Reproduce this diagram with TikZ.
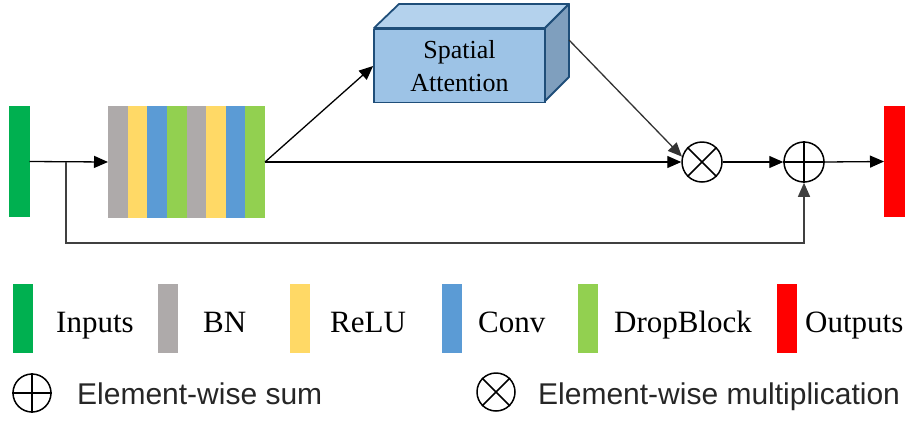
\documentclass[tikz,border=0pt]{standalone}
\usepackage{fontspec}
\setmainfont{Liberation Serif}
\setsansfont{Liberation Sans}
\usetikzlibrary{arrows.meta,positioning}

\definecolor{inGreen}{HTML}{00B050}
\definecolor{bnGray}{HTML}{AEAAAA}
\definecolor{reluYellow}{HTML}{FFD966}
\definecolor{convBlue}{HTML}{5B9BD5}
\definecolor{dropGreen}{HTML}{92D050}
\definecolor{outRed}{HTML}{FF0000}
\definecolor{saFront}{HTML}{9DC3E6}
\definecolor{saTop}{HTML}{B4D2ED}
\definecolor{saSide}{HTML}{7F9FBE}
\definecolor{saEdge}{HTML}{1F4E79}

\tikzset{
	bar/.style={fill=#1, minimum width=21pt, minimum height=111pt, inner sep=0pt, outer sep=0pt},
	keybar/.style={fill=#1, minimum width=20pt, minimum height=69pt, inner sep=0pt, outer sep=0pt},
	op/.style={circle, draw, line width=1.5pt, minimum size=40pt, inner sep=0pt},
	keyop/.style={circle, draw, line width=1.5pt, minimum size=38pt, inner sep=0pt},
	flow/.style={line width=1.3pt, -{Triangle[length=14pt,width=12pt]}},
	keytext/.style={anchor=base west, inner sep=0pt, font=\fontsize{31}{37}\selectfont},
	optext/.style={anchor=base west, inner sep=0pt, font=\sffamily\fontsize{30}{36}\selectfont, text=black!85}
}

\begin{document}
\begin{tikzpicture}[x=1pt, y=-1pt]
		%%%%% START %%%%%
		\useasboundingbox (0,0) rectangle (915,421);
		
		% input and output
		\node[bar=inGreen] (input) at (19,161.5) {};
		\node[bar=outRed] (output) at (894.5,161.5) {};
		
		% stacked layers
		\node[minimum width=157pt, minimum height=112pt, inner sep=0pt, outer sep=0pt] (stack) at (186.5,162) {};
		\foreach \c [count=\i from 0] in {bnGray,reluYellow,convBlue,dropGreen,bnGray,reluYellow,convBlue,dropGreen}
			\fill[\c] ({108+\i*19.625},106) rectangle ++(19.625,112);
		
		% spatial attention block
		\filldraw[fill=saTop, draw=saEdge, line width=1.8pt, line join=round] (374,28) -- (399,4) -- (569,4) -- (545,28) -- cycle;
		\filldraw[fill=saSide, draw=saEdge, line width=1.8pt, line join=round] (545,28) -- (569,4) -- (569,77) -- (545,101) -- cycle;
		\node[fill=saFront, draw=saEdge, line width=1.8pt, minimum width=171pt, minimum height=73pt,
			align=center, font=\fontsize{26}{33}\selectfont] (sa) at (459.5,66) {Spatial\\Attention};
		\coordinate (saout) at (569,40);
		
		% operators
		\node[op] (mul) at (702,162) {};
		\draw[line width=1.5pt] (mul.45) -- (mul.225) (mul.135) -- (mul.315);
		\node[op] (add) at (804,162) {};
		\draw[line width=1.5pt] (add.north) -- (add.south) (add.east) -- (add.west);
		
		% connections
		\coordinate (branch) at (66,162);
		\draw[flow] (input.east) -- (stack.west);
		\draw[flow] (stack.east) -- (sa.west);
		\draw[flow] (stack.east) -- (mul.west);
		\draw[flow, black!80] (saout) -- (mul.165);
		\draw[flow] (mul.east) -- (add.west);
		\draw[flow] (add.east) -- (output.west);
		\draw[flow, black!75] (branch) -- (66,243) -| (add.south);
		
		% legend
		\node[keybar=inGreen] (kin) at (22.5,318.5) {};
		\node[keytext] (tin) at (56,332) {Inputs};
		\node[keybar=bnGray] (kbn) at (168,318.5) {};
		\node[keytext] (tbn) at (203,332) {BN};
		\node[keybar=reluYellow] (krelu) at (300,318.5) {};
		\node[keytext] (trelu) at (330,332) {ReLU};
		\node[keybar=convBlue] (kconv) at (452,318.5) {};
		\node[keytext] (tconv) at (478,332) {Conv};
		\node[keybar=dropGreen] (kdrop) at (588,318.5) {};
		\node[keytext] (tdrop) at (614,332) {DropBlock};
		\node[keybar=outRed] (kout) at (786.5,318.5) {};
		\node[keytext] (tout) at (805,332) {Outputs};
		
		\node[keyop] (kadd) at (32,393) {};
		\draw[line width=1.5pt] (kadd.north) -- (kadd.south) (kadd.east) -- (kadd.west);
		\node[optext] (tadd) at (77,404) {Element-wise sum};
		\node[keyop] (kmul) at (496,392) {};
		\draw[line width=1.5pt] (kmul.45) -- (kmul.225) (kmul.135) -- (kmul.315);
		\node[optext] (tmul) at (538,404) {Element-wise multiplication};
		%%%%% END %%%%%
\end{tikzpicture}
\end{document}
